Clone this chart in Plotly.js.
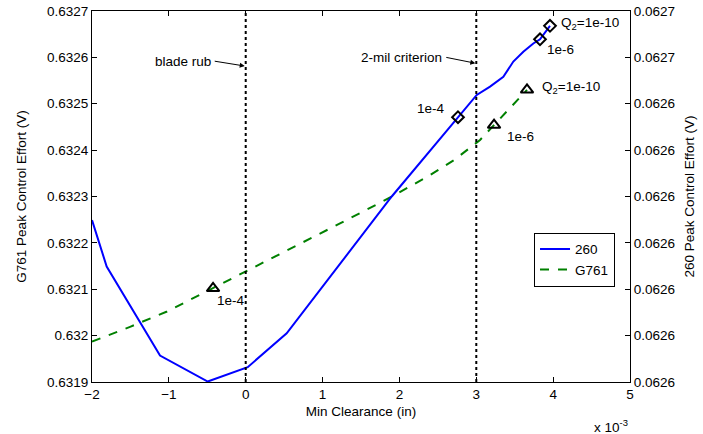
<!DOCTYPE html>
<html>
<head>
<meta charset="utf-8">
<script src="https://cdn.plot.ly/plotly-3.0.1.min.js"></script>
<style>html,body{margin:0;padding:0;background:#fff}#chart{width:703px;height:434px}</style>
</head>
<body>
<div id="chart"></div>
<script>
// Min clearance in units of 1e-3 in
const x260 = [-2.0, -1.809, -1.115, -0.494, 0.026, 0.533, 1.900, 2.762, 3.006, 3.179, 3.352, 3.482, 3.612, 3.742, 3.829, 3.959];
const y260 = [0.0626149, 0.0626049, 0.0625857, 0.0625801, 0.0625832, 0.0625905, 0.0626200, 0.0626371, 0.0626419, 0.0626437, 0.0626458, 0.0626491, 0.0626512, 0.0626530, 0.0626539, 0.0626568];
const xG761 = [-2.0, -1.505, -1.024, -0.425, -0.009, 0.576, 1.227, 1.904, 2.398, 2.723, 3.049, 3.231, 3.660];
const yG761 = [0.631987, 0.632019, 0.632052, 0.632102, 0.632138, 0.632187, 0.632242, 0.632300, 0.632346, 0.632380, 0.632422, 0.632454, 0.632530];
// Q2 markers
const mk260X = [2.762, 3.829, 3.959];
const mk260Y = [0.0626371, 0.0626539, 0.0626568];
const mk260Labels = ['1e-4', '1e-6', 'Q<sub>2</sub>=1e-10'];
const mkG761X = [-0.425, 3.231, 3.660];
const mkG761Y = [0.632102, 0.632454, 0.632530];
const mkG761Labels = ['1e-4', '1e-6', 'Q<sub>2</sub>=1e-10'];
// reference lines
const refX = [0, 3];
const refLabels = ['blade rub', '2-mil criterion'];
const refArrowY = [0.632581, 0.632587];
// ticks
const xTicks = [-2, -1, 0, 1, 2, 3, 4, 5];
const yLeftTicks = [0.6319, 0.6320, 0.6321, 0.6322, 0.6323, 0.6324, 0.6325, 0.6326, 0.6327];
const yLeftLabels = ['0.6319', '0.632', '0.6321', '0.6322', '0.6323', '0.6324', '0.6325', '0.6326', '0.6327'];
const yRightTicks = [0.06258, 0.06259, 0.06260, 0.06261, 0.06262, 0.06263, 0.06264, 0.06265, 0.06266];
const yRightLabels = ['0.0626', '0.0626', '0.0626', '0.0626', '0.0626', '0.0626', '0.0626', '0.0627', '0.0627'];

const FONT = '"Liberation Sans", Arial, sans-serif';
const FS = 13.5;

const traces = [
  {x: x260, y: y260, yaxis: 'y2', mode: 'lines', name: '260', line: {color: '#0000ff', width: 2}},
  {x: xG761, y: yG761, yaxis: 'y', mode: 'lines', name: 'G761', line: {color: '#008000', width: 2, dash: 'dash'}},
  {x: mk260X, y: mk260Y, yaxis: 'y2', mode: 'markers', showlegend: false, hoverinfo: 'skip',
   marker: {symbol: 'diamond-open', size: 9, color: '#000', line: {width: 2, color: '#000'}}},
  {x: mkG761X, y: mkG761Y, yaxis: 'y', mode: 'markers', showlegend: false, hoverinfo: 'skip',
   marker: {symbol: 'triangle-up-open', size: 11, color: '#000', line: {width: 2, color: '#000'}}}
];

const annFont = {family: FONT, size: FS, color: '#000'};
const shifts260 = [[-11, 9, 'right'], [5, -10, 'left'], [9, 2, 'left']];
const shiftsG = [[2, -12, 'left'], [11, -11, 'left'], [13, 2, 'left']];
const annotations = [];
mk260X.forEach((xv, i) => annotations.push({x: xv, y: mk260Y[i], xref: 'x', yref: 'y2', text: mk260Labels[i], showarrow: false,
  xanchor: shifts260[i][2], yanchor: 'middle', xshift: shifts260[i][0], yshift: shifts260[i][1], font: annFont}));
mkG761X.forEach((xv, i) => annotations.push({x: xv, y: mkG761Y[i], xref: 'x', yref: 'y', text: mkG761Labels[i], showarrow: false,
  xanchor: shiftsG[i][2], yanchor: 'middle', xshift: shiftsG[i][0], yshift: shiftsG[i][1], font: annFont}));
// reference line labels with arrows (text box right edge at arrow tail)
const refAx = [-31, -30];
const refAy = [-5, -6];
refX.forEach((xv, i) => {
  annotations.push({x: xv, y: refArrowY[i], xref: 'x', yref: 'y', text: refLabels[i], showarrow: true, arrowhead: 2, arrowsize: 1,
    arrowwidth: 1, arrowcolor: '#000', ax: refAx[i], ay: refAy[i], standoff: 1, xanchor: 'right', yanchor: 'middle',
    borderpad: 3, font: annFont});
});
annotations.push({xref: 'paper', yref: 'paper', x: 1, y: 0, xanchor: 'right', yanchor: 'top', yshift: -33, xshift: 0,
  text: 'x 10<sup>-3</sup>', showarrow: false, font: annFont});

const shapes = refX.map(xv => ({type: 'line', xref: 'x', yref: 'paper', x0: xv, x1: xv, y0: 0, y1: 1,
  line: {color: '#000', width: 2, dash: 'dot'}}));

const layout = {
  width: 703, height: 434,
  margin: {l: 92, r: 73, t: 11, b: 52, pad: 0},
  paper_bgcolor: '#fff', plot_bgcolor: '#fff',
  font: {family: FONT, size: FS, color: '#000'},
  showlegend: true,
  legend: {x: 0.8216, y: 0.4024, xanchor: 'left', yanchor: 'top', bgcolor: '#fff', bordercolor: '#000', borderwidth: 1,
    font: {family: FONT, size: FS, color: '#000'}, itemwidth: 30, tracegroupgap: 0},
  xaxis: {range: [-2, 5], tickvals: xTicks, ticks: 'inside', ticklen: 5, tickcolor: '#000', showline: true, linecolor: '#000', linewidth: 1,
    mirror: 'ticks', showgrid: false, zeroline: false, tickfont: {size: FS},
    title: {text: 'Min Clearance (in)', font: {size: FS}, standoff: 5}},
  yaxis: {range: [0.6319, 0.6327], tickvals: yLeftTicks, ticktext: yLeftLabels, ticks: 'inside', ticklen: 5, tickcolor: '#000',
    showline: true, linecolor: '#000', linewidth: 1, showgrid: false, zeroline: false, tickfont: {size: FS},
    title: {text: 'G761 Peak Control Effort (V)', font: {size: FS}, standoff: 17}},
  yaxis2: {range: [0.06258, 0.06266], tickvals: yRightTicks, ticktext: yRightLabels, overlaying: 'y', side: 'right', ticks: 'inside',
    ticklen: 5, tickcolor: '#000', showline: true, linecolor: '#000', linewidth: 1, showgrid: false, zeroline: false, tickfont: {size: FS},
    title: {text: '260 Peak Control Effort (V)', font: {size: FS}, standoff: 10}},
  annotations: annotations,
  shapes: shapes
};

Plotly.newPlot('chart', traces, layout, {displayModeBar: false, staticPlot: true});
</script>
</body>
</html>
